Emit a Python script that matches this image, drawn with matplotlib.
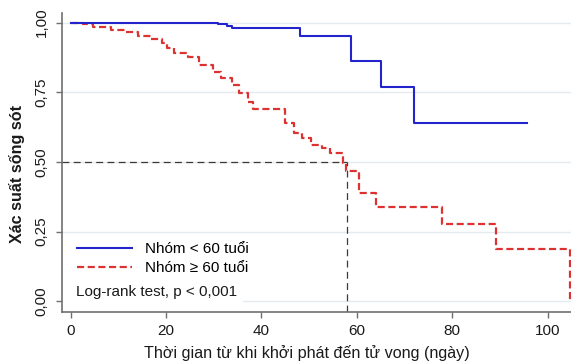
import matplotlib
matplotlib.use("Agg")
import matplotlib.pyplot as plt
from matplotlib.lines import Line2D
from matplotlib.patches import Rectangle

# ---- data ----
t_young = [0, 16.0, 30.9, 32.7, 33.8, 48.0, 58.8, 65.0, 71.9, 95.6]
s_young = [1.0, 0.997, 0.994, 0.989, 0.979, 0.953, 0.862, 0.769, 0.641, 0.641]

t_old = [0, 2.5, 4.7, 8.5, 11.6, 14.2, 16.8, 19.2, 20.2, 21.6, 24.5, 27.0, 29.8,
         31.6, 33.9, 35.2, 37.2, 38.2, 45.0, 46.8, 48.6, 50.4, 52.6, 54.3, 57.1,
         57.8, 60.5, 64.0, 77.9, 89.1, 104.6]
s_old = [1.0, 0.994, 0.983, 0.973, 0.965, 0.953, 0.941, 0.925, 0.907, 0.892, 0.877,
         0.848, 0.824, 0.801, 0.776, 0.747, 0.715, 0.69, 0.64, 0.604, 0.586, 0.561,
         0.55, 0.532, 0.497, 0.469, 0.388, 0.338, 0.278, 0.188, 0.0]

median_time = 58.0
median_surv = 0.5

labels = ["Nhóm < 60 tuổi", "Nhóm ≥ 60 tuổi"]
note = "Log-rank test, p < 0,001"
xticks = [0, 20, 40, 60, 80, 100]
yticks = [0.0, 0.25, 0.5, 0.75, 1.0]
ytick_labels = ["0,00", "0,25", "0,50", "0,75", "1,00"]
xlabel = "Thời gian từ khi khởi phát đến tử vong (ngày)"
ylabel = "Xác suất sống sót"

plt.rcParams['font.family'] = ['Liberation Sans', 'DejaVu Sans']

W, H = 571, 363
fig = plt.figure(figsize=(W / 100, H / 100), dpi=100)
left_px, right_px, top_px, bot_px = 61.7, 571.0, 13.3, 311.7
ax = fig.add_axes([left_px / W, 1 - bot_px / H, (right_px - left_px) / W, (bot_px - top_px) / H])

ax.set_xlim(-1.88, 104.9)
ax.set_ylim(-0.037, 1.033)

# grid
for yv in yticks:
    ax.axhline(yv, color='#e4eaed', lw=1.0, zorder=0)

# white legend area
ax.add_patch(Rectangle((0, 0), 0.356, 0.262, transform=ax.transAxes,
                       facecolor='white', edgecolor='none', zorder=1))

blue = '#2424cc'
red = '#dc3232'
ax.step(t_young, s_young, where='post', color=blue, lw=1.5, zorder=4)
ax.step(t_old, s_old, where='post', color=red, lw=1.6, linestyle=(0, (3.2, 1.6)), zorder=3)

# median lines
ax.plot([-1.88, median_time], [median_surv, median_surv], color='#3a3a3a', lw=0.9,
        linestyle=(0, (5.5, 3.5)), zorder=2)
ax.plot([median_time, median_time], [-0.037, median_surv], color='#3a3a3a', lw=0.9,
        linestyle=(0, (5.5, 3.5)), zorder=2)

# spines & ticks
for s in ['top', 'right']:
    ax.spines[s].set_visible(False)
for s in ['left', 'bottom']:
    ax.spines[s].set_color('#707070')
    ax.spines[s].set_linewidth(1.2)
ax.set_xticks(xticks)
ax.set_xticklabels([str(v) for v in xticks])
ax.set_yticks(yticks)
ax.set_yticklabels(ytick_labels, rotation=90, va='center')
ax.tick_params(axis='both', direction='out', length=4.5, width=1.0, color='#707070',
               labelsize=11, labelcolor='#1a1a1a')
ax.tick_params(axis='x', pad=4)
ax.tick_params(axis='y', pad=5)

ax.set_xlabel(xlabel, fontsize=11.6, color='#1a1a1a')
ax.xaxis.set_label_coords(0.481, -0.110)
ax.set_ylabel(ylabel, fontsize=11.6, fontweight='bold', color='#1a1a1a')
ax.yaxis.set_label_coords(-0.072, 0.461)

handles = [Line2D([], [], color=blue, lw=1.5),
           Line2D([], [], color=red, lw=1.6, linestyle=(0, (3.2, 1.6)))]
leg = ax.legend(handles, labels, loc='upper left', bbox_to_anchor=(0.030, 0.232),
                frameon=False, fontsize=11, handlelength=3.6, handletextpad=0.85,
                borderpad=0, borderaxespad=0, labelspacing=0.32)
leg.set_zorder(5)
ax.text(0.028, 0.066, note, transform=ax.transAxes, fontsize=11, va='center',
        ha='left', color='#1a1a1a', zorder=5)

fig.savefig("out.png", dpi=100)
